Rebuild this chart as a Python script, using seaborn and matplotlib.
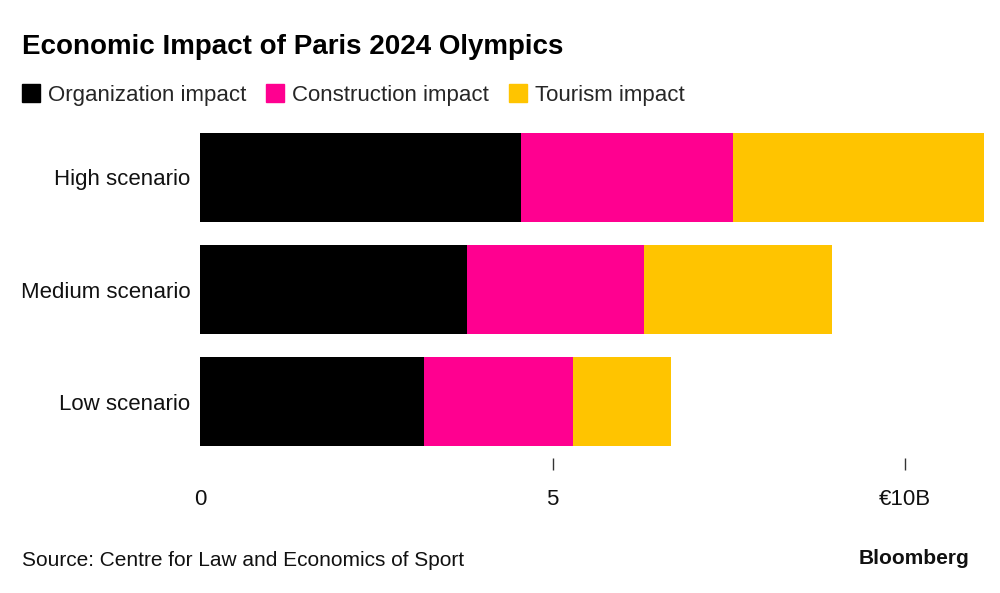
import matplotlib
matplotlib.use("Agg")
import matplotlib.pyplot as plt
import seaborn as sns
import pandas as pd
import numpy as np
from matplotlib.patches import Rectangle

scenarios = ["High scenario", "Medium scenario", "Low scenario"]
organization = [4.55, 3.79, 3.18]
construction = [3.01, 2.51, 2.11]
tourism = [3.56, 2.66, 1.39]
series_names = ["Organization impact", "Construction impact", "Tourism impact"]
colors = ["#000000", "#FF0090", "#FFC400"]
tick_values = [0, 5, 10]
tick_labels = ["0", "5", "€10B"]

sns.set_theme(style="white")
plt.rcParams["font.family"] = ["Liberation Sans", "DejaVu Sans"]

df = pd.DataFrame({
    "scenario": scenarios,
    "org": organization,
    "con": construction,
    "tou": tourism,
})
df["c1"] = df["org"]
df["c2"] = df["org"] + df["con"]
df["c3"] = df["c2"] + df["tou"]

fig = plt.figure(figsize=(10, 5.93), dpi=100)
ax = fig.add_axes([0.200, 1 - 457.5 / 593, 0.784, (457.5 - 121.5) / 593])

for col, color in zip(["c3", "c2", "c1"], [colors[2], colors[1], colors[0]]):
    sns.barplot(data=df, x=col, y="scenario", orient="h", color=color,
                width=0.795, ax=ax, saturation=1, edgecolor="none", linewidth=0)

ax.set_xlim(0, df["c3"].max())
ax.set_ylim(2.5, -0.5)
ax.set_xlabel("")
ax.set_ylabel("")
for s in ax.spines.values():
    s.set_visible(False)
ax.set_xticks(tick_values)
ax.set_xticklabels(tick_labels, fontsize=16, color="#111111")
ax.tick_params(axis="x", length=8.6, width=1, color="#333333", pad=14, direction="out", bottom=True)
ax.xaxis.get_major_ticks()[0].tick1line.set_visible(False)
ax.tick_params(axis="y", length=0, pad=7, labelsize=16, labelcolor="#111111")

fig.text(0.022, 1 - 47 / 593, "Economic Impact of Paris 2024 Olympics", fontsize=20,
         fontweight="bold", va="center", ha="left", color="#000000")

y = 1 - 95 / 593
legend = ax.legend(
    handles=[Rectangle((0, 0), 1, 1, color=c) for c in colors],
    labels=series_names, loc="center left", bbox_to_anchor=(0.022, y),
    bbox_transform=fig.transFigure, ncol=3, frameon=False, fontsize=16,
    handlelength=0.81, handleheight=0.81, handletextpad=0.36, columnspacing=0.9,
    borderaxespad=0, borderpad=0)

fig.text(0.022, 1 - 560 / 593, "Source: Centre for Law and Economics of Sport", fontsize=15,
         va="center", ha="left", color="#111111")
fig.text(0.969, 1 - 558 / 593, "Bloomberg", fontsize=15, fontweight="bold",
         va="center", ha="right", color="#111111")

fig.savefig("out.png", dpi=100)
